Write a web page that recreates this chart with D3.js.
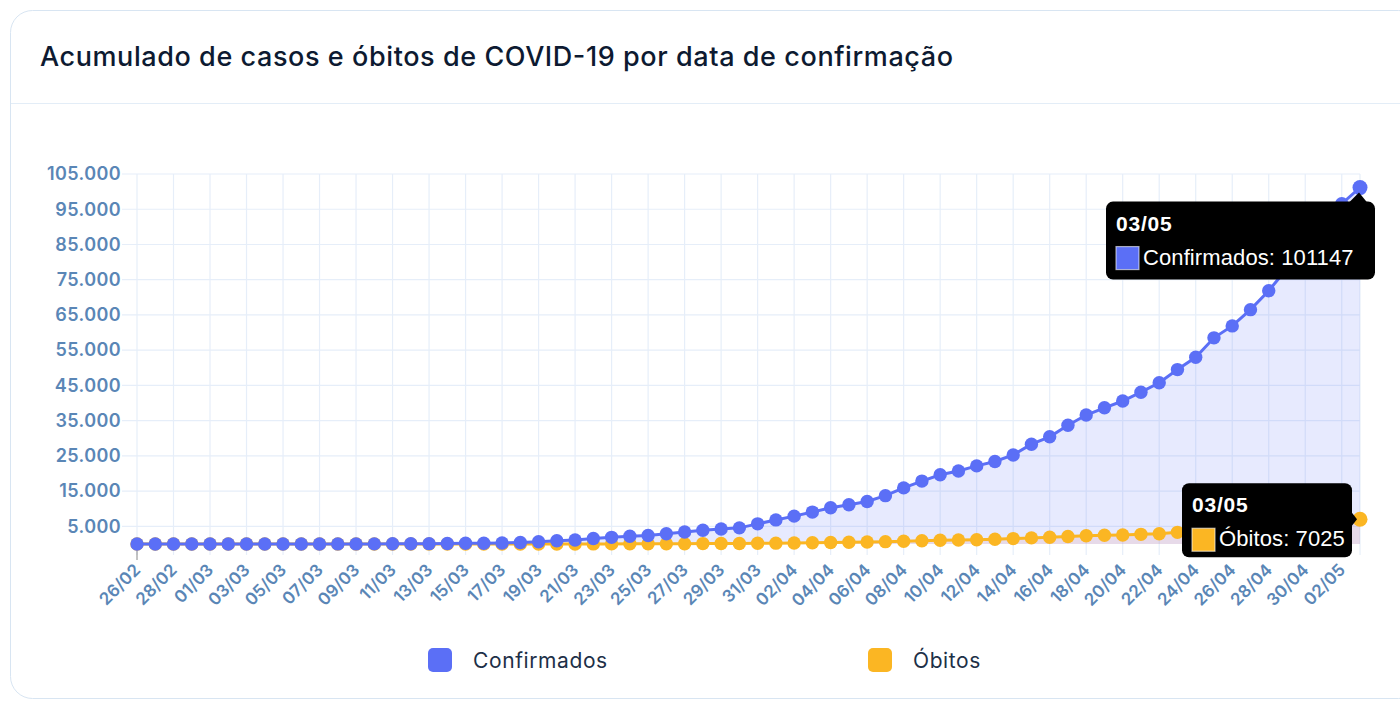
<!DOCTYPE html>
<html>
<head>
<meta charset="utf-8">
<script src="https://cdn.jsdelivr.net/npm/d3@7"></script>
<style>
  html, body { margin: 0; padding: 0; background: #fff; }
  svg { display: block; font-family: Inter, "Open Sans", sans-serif; }
</style>
</head>
<body>
<svg id="chart" width="1400" height="702"></svg>
<script>
const dates = ['26/02','27/02','28/02','29/02','01/03','02/03','03/03','04/03','05/03','06/03','07/03','08/03','09/03','10/03','11/03','12/03','13/03','14/03','15/03','16/03','17/03','18/03','19/03','20/03','21/03','22/03','23/03','24/03','25/03','26/03','27/03','28/03','29/03','30/03','31/03','01/04','02/04','03/04','04/04','05/04','06/04','07/04','08/04','09/04','10/04','11/04','12/04','13/04','14/04','15/04','16/04','17/04','18/04','19/04','20/04','21/04','22/04','23/04','24/04','25/04','26/04','27/04','28/04','29/04','30/04','01/05','02/05','03/05'];

const confirmados = [1,1,1,2,2,2,2,3,8,13,19,25,25,34,52,77,98,121,200,234,291,428,621,904,1128,1546,1891,2201,2433,2915,3417,3904,4256,4579,5717,6836,7910,9056,10278,11130,12056,13717,15927,17857,19638,20727,22169,23430,25262,28320,30425,33682,36599,38654,40581,43079,45757,49492,52995,58509,61888,66501,71886,78162,85380,91589,96559,101147];

const obitos = [0,0,0,0,0,0,0,0,0,0,0,0,0,0,0,0,0,0,0,0,1,4,7,11,18,25,34,46,57,77,92,111,136,159,201,240,299,359,432,486,553,667,800,941,1056,1124,1223,1328,1532,1736,1924,2141,2347,2462,2575,2741,2906,3313,3670,4016,4205,4543,5017,5466,5901,6329,6750,7025];

const yTicks = [5000,15000,25000,35000,45000,55000,65000,75000,85000,95000,105000];
const xTicks = dates.filter((d, i) => i % 2 === 0 && i < dates.length - 1);

const series = [
  {name: 'Confirmados', values: confirmados, color: '#5b6ff6', fill: 'rgba(91,111,246,0.15)'},
  {name: 'Óbitos', values: obitos, color: '#fbb623', fill: 'rgba(235,150,140,0.18)'}
];

const svg = d3.select('#chart');
const locale = d3.formatLocale({decimal: ',', thousands: '.', grouping: [3], currency: ['R$', '']});
const fmt = locale.format(',d');

// card
svg.append('rect')
  .attr('x', 10.5).attr('y', 10.5)
  .attr('width', 1410).attr('height', 688)
  .attr('rx', 22)
  .attr('fill', '#fff')
  .attr('stroke', '#d8e5f2');
svg.append('line')
  .attr('x1', 11).attr('x2', 1400).attr('y1', 103.5).attr('y2', 103.5)
  .attr('stroke', '#e3edf7');
svg.append('text')
  .attr('x', 40).attr('y', 66)
  .attr('fill', '#0d1a31')
  .attr('font-size', 27).attr('font-weight', 500)
  .attr('textLength', 913).attr('lengthAdjust', 'spacing')
  .text('Acumulado de casos e óbitos de COVID-19 por data de confirmação');

const x = d3.scalePoint().domain(dates).range([137, 1360]);
const y = d3.scaleLinear().domain([0, 105000]).range([544, 174]);

// grid
const grid = svg.append('g').attr('stroke', '#e6eef9').attr('stroke-width', 1.2);
grid.selectAll('.h').data(yTicks).join('line')
  .attr('x1', 122).attr('x2', 1360)
  .attr('y1', d => y(d)).attr('y2', d => y(d));
grid.selectAll('.v').data(xTicks.concat([dates[dates.length - 1]])).join('line')
  .attr('x1', d => x(d)).attr('x2', d => x(d))
  .attr('y1', y(105000)).attr('y2', 555);

// y axis labels
const yAxis = svg.append('g')
  .attr('transform', 'translate(121,0)')
  .call(d3.axisLeft(y).tickValues(yTicks).tickSize(0).tickPadding(0).tickFormat(fmt));
yAxis.select('.domain').remove();
yAxis.selectAll('text')
  .attr('fill', '#5a86b6')
  .attr('font-size', 18).attr('font-weight', 600)
  .attr('letter-spacing', 0.4)
  .attr('font-family', 'Inter, sans-serif');

// x axis labels
const xAxis = svg.append('g')
  .attr('transform', 'translate(0,568)')
  .call(d3.axisBottom(x).tickValues(xTicks).tickSize(0).tickPadding(0));
xAxis.select('.domain').remove();
xAxis.selectAll('text')
  .attr('fill', '#5a86b6')
  .attr('font-size', 17).attr('font-weight', 600)
  .attr('font-family', 'Inter, sans-serif')
  .attr('text-anchor', 'end')
  .attr('dy', 0)
  .attr('transform', 'translate(4,3) rotate(-45)');
svg.append('line')
  .attr('x1', x(dates[0])).attr('x2', x(dates[0]))
  .attr('y1', 546).attr('y2', 560)
  .attr('stroke', '#888');

// areas, lines, points
const plot = svg.append('g');
series.forEach(s => {
  plot.append('path')
    .datum(s.values)
    .attr('fill', s.fill)
    .attr('d', d3.area().x((d, i) => x(dates[i])).y0(y(0)).y1(d => y(d)));
});
series.slice().reverse().forEach(s => {
  const g = plot.append('g');
  g.append('path')
    .datum(s.values)
    .attr('fill', 'none')
    .attr('stroke', s.color).attr('stroke-width', 3)
    .attr('d', d3.line().x((d, i) => x(dates[i])).y(d => y(d)));
  g.selectAll('circle').data(s.values).join('circle')
    .attr('cx', (d, i) => x(dates[i]))
    .attr('cy', d => y(d))
    .attr('r', (d, i) => i === dates.length - 1 ? 7.5 : 6.7)
    .attr('fill', s.color);
});

// tooltips for last point
const last = dates.length - 1;
function tooltip(s, bx, by, bw, bh, pointer) {
  const g = svg.append('g').attr('font-family', '"Liberation Sans", Arial, sans-serif');
  g.append('rect')
    .attr('x', bx).attr('y', by).attr('width', bw).attr('height', bh)
    .attr('rx', 7).attr('fill', '#000');
  g.append('path').attr('d', pointer).attr('fill', '#000');
  g.append('text')
    .attr('x', bx + 10).attr('y', by + 29)
    .attr('fill', '#fff').attr('font-size', 21).attr('font-weight', 700)
    .attr('letter-spacing', 0.8)
    .text(dates[last]);
  g.append('rect')
    .attr('x', bx + 10).attr('y', by + 45).attr('width', 23).attr('height', 23)
    .attr('fill', s.color).attr('stroke', '#fff').attr('stroke-opacity', 0.6).attr('stroke-width', 1.2);
  g.append('text')
    .attr('x', bx + 37).attr('y', by + 63)
    .attr('fill', '#fff').attr('font-size', 22)
    .attr('letter-spacing', 0.1)
    .text(`${s.name}: ${s.values[last]}`);
}
const px = x(dates[last]);
const py1 = y(confirmados[last]);
const py2 = y(obitos[last]);
tooltip(series[0], px - 254, py1 + 14, 269, 78,
  `M${px - 12},${py1 + 16} L${px - 1},${py1 + 5} L${px + 8},${py1 + 16} Z`);
tooltip(series[1], px - 178, py2 - 36, 170, 74,
  `M${px - 10},${py2 - 9} L${px - 3},${py2} L${px - 10},${py2 + 9} Z`);

// legend
const legend = svg.append('g');
const legendX = [428, 868];
series.forEach((s, i) => {
  legend.append('rect')
    .attr('x', legendX[i]).attr('y', 648).attr('width', 24).attr('height', 24)
    .attr('rx', 5).attr('fill', s.color);
  legend.append('text')
    .attr('x', legendX[i] + 45).attr('y', 668)
    .attr('fill', '#1d3047').attr('font-size', 21)
    .attr('letter-spacing', 0.6)
    .text(s.name);
});
</script>
</body>
</html>
